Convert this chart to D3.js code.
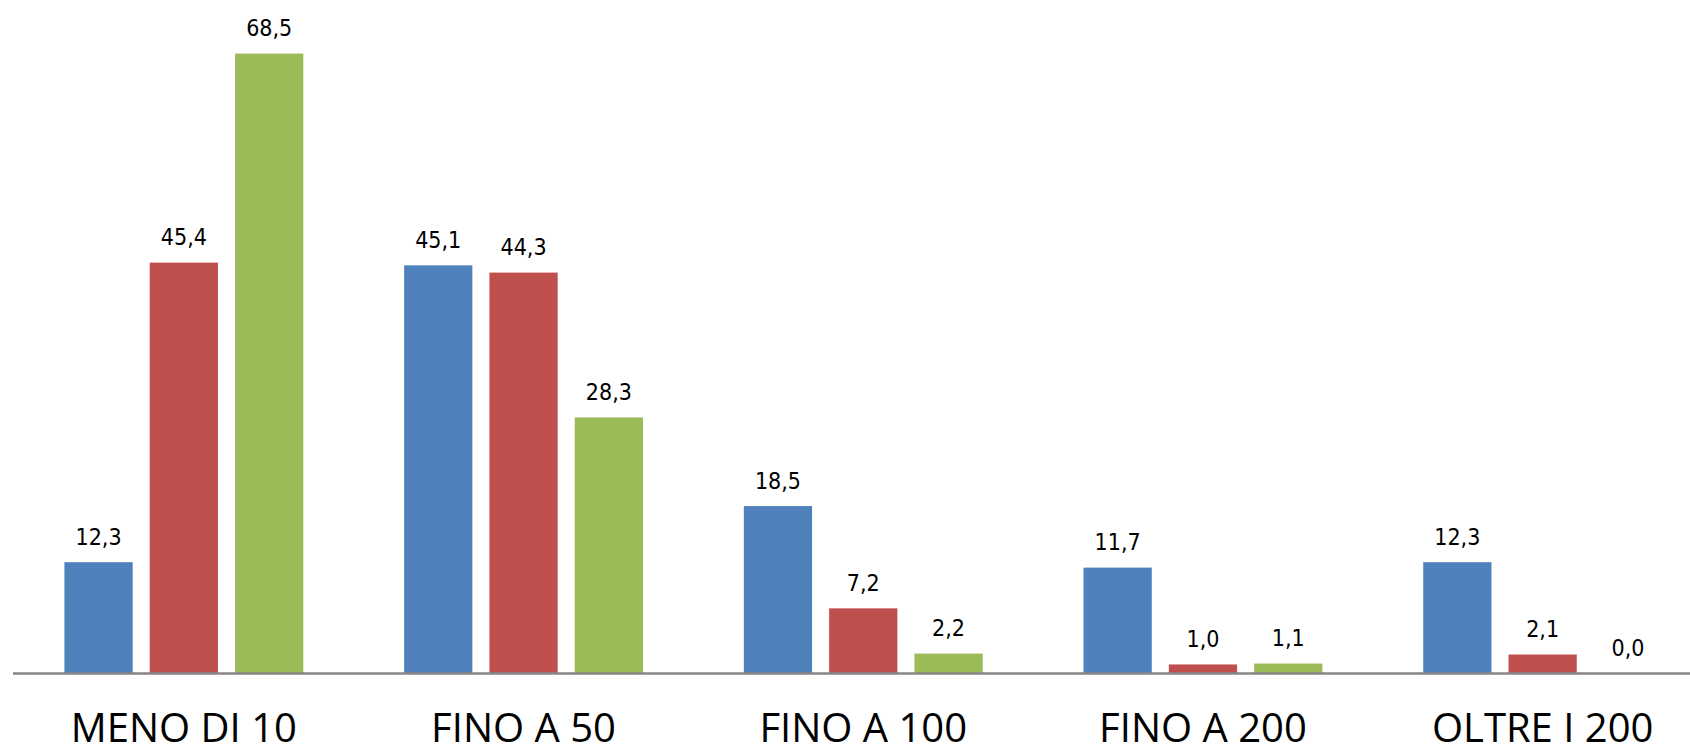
<!DOCTYPE html>
<html>
<head>
<meta charset="utf-8">
<script src="https://cdn.jsdelivr.net/npm/d3@7"></script>
<style>
  html, body { margin: 0; padding: 0; background: #ffffff; }
  svg { display: block; }
</style>
</head>
<body>
<svg id="chart" width="1690" height="754"></svg>
<script>
// ---- data ----
const categories = ["MENO DI 10", "FINO A 50", "FINO A 100", "FINO A 200", "OLTRE I 200"];
const seriesNames = ["Serie 1", "Serie 2", "Serie 3"];
const serie1 = [12.3, 45.1, 18.5, 11.7, 12.3];
const serie2 = [45.4, 44.3, 7.2, 1.0, 2.1];
const serie3 = [68.5, 28.3, 2.2, 1.1, 0.0];
const seriesColors = ["#4F81BD", "#C0504D", "#9BBB59"];

const seriesValues = [serie1, serie2, serie3];
const rows = categories.map((c, i) => ({
  cat: c,
  vals: seriesNames.map((s, j) => ({ s, v: seriesValues[j][i], color: seriesColors[j] }))
}));

// ---- layout ----
const W = 1690, H = 754;
const plotLeft = 14, plotRight = 1712.5;
const baseY = 673.5, topY = 40;

const svg = d3.select("#chart");

const x0 = d3.scaleBand().domain(categories).range([plotLeft, plotRight]).padding(0);
const x1 = d3.scaleBand().domain(seriesNames).range([0, x0.bandwidth()])
  .paddingInner(0.2).paddingOuter(0.591);
const y = d3.scaleLinear().domain([0, 70]).range([baseY, topY]);

const fmt = v => d3.format(".1f")(v).replace(".", ",");

const groups = svg.append("g").selectAll("g").data(rows).join("g")
  .attr("transform", d => `translate(${x0(d.cat)},0)`);

groups.selectAll("rect").data(d => d.vals).join("rect")
  .attr("x", d => x1(d.s))
  .attr("width", x1.bandwidth())
  .attr("y", d => y(d.v))
  .attr("height", d => y(0) - y(d.v))
  .attr("fill", d => d.color);

groups.selectAll("text.val").data(d => d.vals).join("text")
  .attr("class", "val")
  .attr("x", d => x1(d.s) + x1.bandwidth() / 2)
  .attr("y", d => y(d.v) - 17.5)
  .attr("text-anchor", "middle")
  .attr("font-family", "'DejaVu Sans Condensed', 'DejaVu Sans', sans-serif")
  .attr("font-stretch", "condensed")
  .attr("font-size", 23)
  .attr("fill", "#000")
  .text(d => fmt(d.v));

// axis line
svg.append("line")
  .attr("x1", 13).attr("x2", W)
  .attr("y1", baseY).attr("y2", baseY)
  .attr("stroke", "#868686").attr("stroke-width", 2.6);

// category labels
svg.append("g").selectAll("text").data(categories).join("text")
  .attr("x", d => x0(d) + x0.bandwidth() / 2)
  .attr("y", 741.5)
  .attr("text-anchor", "middle")
  .attr("font-family", "'Open Sans', Lato, sans-serif")
  .attr("font-size", 40)
  .attr("fill", "#000")
  .text(d => d);
</script>
</body>
</html>
